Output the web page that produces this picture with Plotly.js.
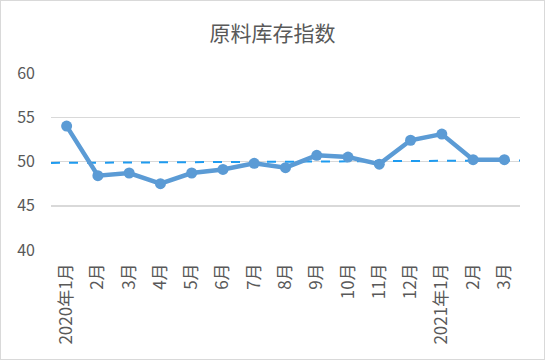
<!DOCTYPE html>
<html>
<head>
<meta charset="utf-8">
<script src="https://cdn.plot.ly/plotly-3.0.1.min.js"></script>
<style>
html,body{margin:0;padding:0;background:#fff;}
#chart{width:543px;height:358px;border:1px solid #d9d9d9;}
</style>
</head>
<body>
<div id="chart"></div>
<script>
const months = ['2020年1月','2月','3月','4月','5月','6月','7月','8月','9月','10月','11月','12月','2021年1月','2月','3月'];
const inventoryIndex = [54.0, 48.4, 48.7, 47.5, 48.7, 49.1, 49.8, 49.3, 50.7, 50.5, 49.7, 52.4, 53.1, 50.2, 50.2];
const trendEnds = [49.84, 50.12];

const pos = months.map((m, i) => i);
const font = '"Noto Sans CJK SC", "Noto Sans", sans-serif';

const traces = [
  {
    x: [pos[0] - 0.5, pos[pos.length - 1] + 0.5],
    y: trendEnds,
    mode: 'lines',
    line: {color: '#1E9BF0', width: 2, dash: 'dash'},
    hoverinfo: 'skip',
    showlegend: false
  },
  {
    x: pos,
    y: inventoryIndex,
    mode: 'lines+markers',
    line: {color: '#5B9BD5', width: 4.5},
    marker: {color: '#5B9BD5', size: 11},
    showlegend: false
  }
];

const layout = {
  width: 543, height: 358,
  margin: {l: 50, r: 24, t: 72, b: 109},
  paper_bgcolor: '#fff', plot_bgcolor: '#fff',
  font: {family: font, color: '#595959'},
  title: {text: '原料库存指数', x: 0.5, xanchor: 'center', y: 0.908, yanchor: 'middle',
          font: {family: font, size: 21, color: '#595959'}},
  xaxis: {
    type: 'linear', range: [-0.5, 14.5],
    tickvals: pos, ticktext: months,
    tickangle: -90, tickfont: {size: 17, color: '#595959', family: font},
    showgrid: false, zeroline: false, showline: false, ticks: '',
    ticklabelstandoff: 9, fixedrange: true
  },
  yaxis: {
    range: [40, 60], tickvals: [40, 45, 50, 55, 60],
    tickfont: {size: 16, color: '#595959', family: font},
    gridcolor: '#d9d9d9', gridwidth: 1.5, zeroline: false, showline: false,
    ticks: '', ticklabelstandoff: 15, fixedrange: true
  }
};

Plotly.newPlot('chart', traces, layout, {displayModeBar: false, staticPlot: true});
</script>
</body>
</html>
